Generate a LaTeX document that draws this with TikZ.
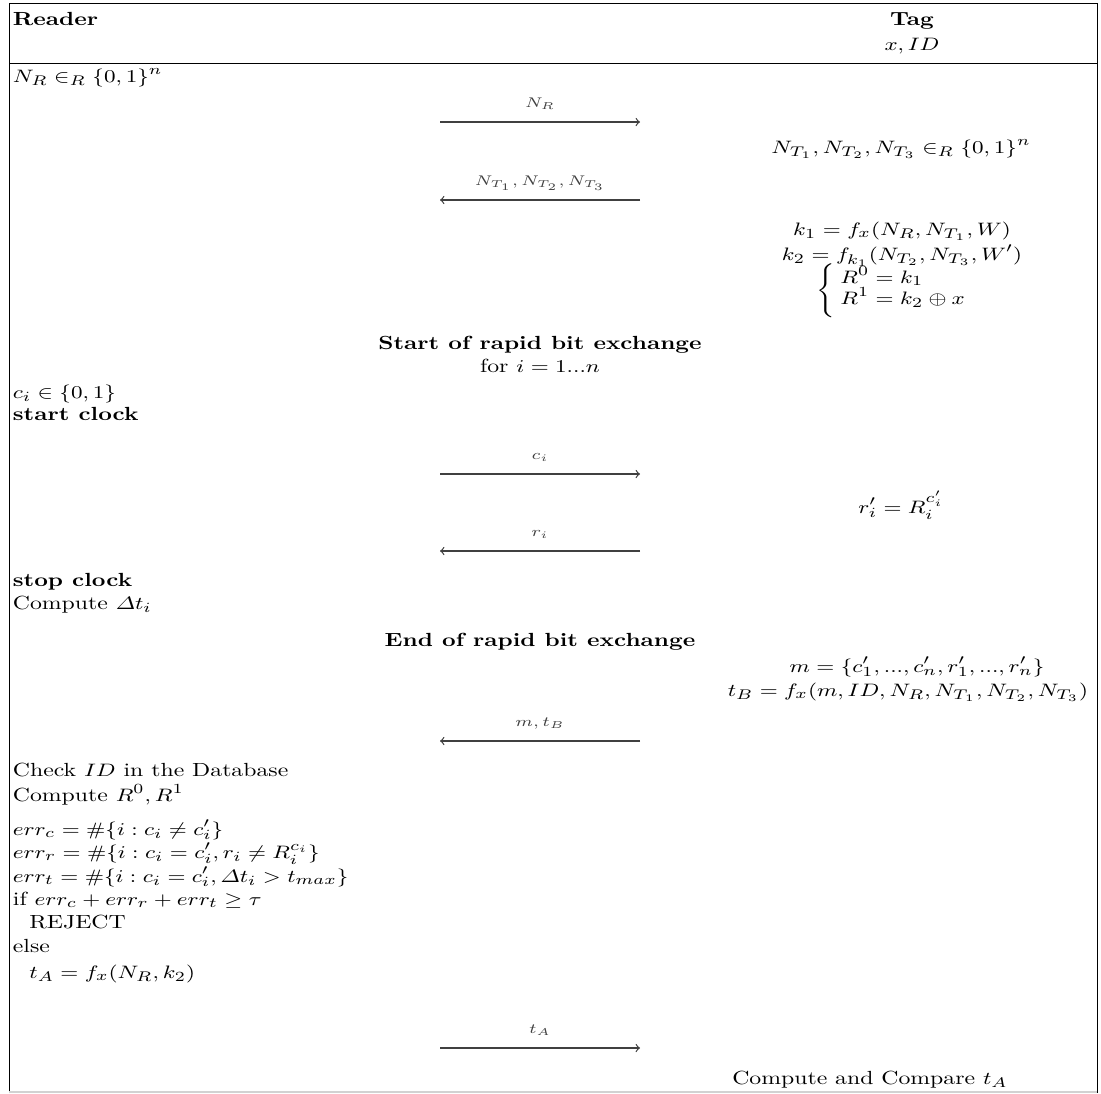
\documentclass[tikz,border=0pt]{standalone}
\usepackage{amsmath}
\usepackage{graphicx}
\newcommand{\wideT}[1]{\scalebox{1.25}[1]{#1}}
\begin{document}
\begin{tikzpicture}[x=0.5pt,y=-0.5pt,
  every node/.style={font=\fontsize{9.5}{11.5}\selectfont},
  lft/.style={inner sep=0pt, anchor=base west},
  ctr/.style={inner sep=0pt, anchor=base},
  rule/.style={line width=0.4pt, black},
  msg/.style={-to, line width=0.6pt, black!75},
  lbl/.style={font=\fontsize{6.7}{8}\selectfont, inner sep=0pt, anchor=base, pos=0.5, yshift=7.5pt}]
\useasboundingbox (0,0) rectangle (1101,1093);
% frame
\coordinate (tl) at (9,3); \coordinate (tr) at (1097,3);
\coordinate (bl) at (9,1093); \coordinate (br) at (1097,1093);
\coordinate (hl) at (9,63); \coordinate (hr) at (1097,63);
\draw[rule] (bl) -- (tl) -- (tr) -- (br);
\draw[rule] (hl) -- (hr);
\draw[gray!35, line width=0.6pt] (9,1092) -- (1097,1092);
% header
\node[lft] (reader) at (12.5,25) {\wideT{\textbf{Reader}}};
\node[ctr] (tag) at (912,25) {\wideT{\textbf{Tag}}};
\node[ctr] (xid) at (912,50) {\wideT{$x, ID$}};
% rows
\node[lft] (nr) at (12.5,82) {\wideT{$N_R \in_R \{0,1\}^n$}};
\coordinate (a1s) at (440,122); \coordinate (a1e) at (640,122);
\draw[msg] (a1s) -- node[lbl] {\wideT{$N_R$}} (a1e);
\node[ctr] (nt) at (901,153) {\wideT{$N_{T_1}, N_{T_2}, N_{T_3} \in_R \{0,1\}^n$}};
\coordinate (a2s) at (640,200); \coordinate (a2e) at (440,200);
\draw[msg] (a2s) -- node[lbl] {\wideT{$N_{T_1},N_{T_2},N_{T_3}$}} (a2e);
\node[ctr] (k1) at (902,235.5) {\wideT{$k_1 = f_x(N_R, N_{T_1}, W)$}};
\node[ctr] (k2) at (902,260.5) {\wideT{$k_2 = f_{k_1}(N_{T_2}, N_{T_3}, W')$}};
\node[inner sep=0pt, anchor=east] (brace) at (839,291) {\wideT{$\left\{\vrule height 11.5pt depth 11.5pt width 0pt\right.$}};
\node[lft] (r0) at (840,283) {\wideT{$R^0 = k_1$}};
\node[lft] (r1) at (840,304.5) {\wideT{$R^1 = k_2 \oplus x$}};
\node[ctr] (srbe) at (540,349.5) {\wideT{\textbf{Start of rapid bit exchange}}};
\node[ctr] (fori) at (540,372) {\wideT{for $i = 1...n$}};
\node[lft] (ci) at (12.5,398.5) {\wideT{$c_i \in \{0,1\}$}};
\node[lft] (sc) at (12.5,420.5) {\wideT{\textbf{start clock}}};
\coordinate (a3s) at (440,474); \coordinate (a3e) at (640,474);
\draw[msg] (a3s) -- node[lbl] {\wideT{$c_i$}} (a3e);
\node[ctr] (ri) at (901,513) {\wideT{$r'_i = R_i^{c'_i}$}};
\coordinate (a4s) at (640,551); \coordinate (a4e) at (440,551);
\draw[msg] (a4s) -- node[lbl] {\wideT{$r_i$}} (a4e);
\node[lft] (stc) at (12.5,586.5) {\wideT{\textbf{stop clock}}};
\node[lft] (cdt) at (12.5,609.5) {\wideT{Compute $\varDelta t_i$}};
\node[ctr] (erbe) at (540,646.5) {\wideT{\textbf{End of rapid bit exchange}}};
\node[ctr] (m) at (917,672.5) {\wideT{$m = \{c'_1, ..., c'_n, r'_1, ..., r'_n\}$}};
\node[ctr] (tb) at (908,696) {\wideT{$t_B = f_x(m, ID, N_R, N_{T_1}, N_{T_2}, N_{T_3})$}};
\coordinate (a5s) at (640,741); \coordinate (a5e) at (440,741);
\draw[msg] (a5s) -- node[lbl] {\wideT{$m,t_B$}} (a5e);
\node[lft] (chk) at (12.5,776.5) {\wideT{Check $ID$ in the Database}};
\node[lft] (cr) at (12.5,801) {\wideT{Compute $R^0, R^1$}};
\node[lft] (ec) at (12.5,835) {\wideT{$err_c = \#\{i : c_i \neq c'_i\}$}};
\node[lft] (er) at (12.5,858.5) {\wideT{$err_r = \#\{i : c_i = c'_i, r_i \neq R_i^{c_i}\}$}};
\node[lft] (et) at (12.5,882) {\wideT{$err_t = \#\{i : c_i = c'_i, \varDelta t_i > t_{max}\}$}};
\node[lft] (iff) at (12.5,905.5) {\wideT{if $err_c + err_r + err_t \geq \tau$}};
\node[lft] (rej) at (29,928) {\wideT{REJECT}};
\node[lft] (els) at (12.5,952.5) {\wideT{else}};
\node[lft] (ta) at (29,978.5) {\wideT{$t_A = f_x(N_R, k_2)$}};
\coordinate (a6s) at (440,1048); \coordinate (a6e) at (640,1048);
\draw[msg] (a6s) -- node[lbl] {\wideT{$t_A$}} (a6e);
\node[ctr] (cmp) at (870,1084) {\wideT{Compute and Compare $t_A$}};
\end{tikzpicture}
\end{document}
